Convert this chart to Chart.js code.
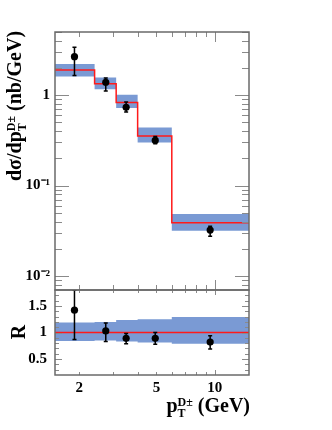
<!DOCTYPE html>
<html>
<head>
<meta charset="utf-8">
<script src="https://cdn.jsdelivr.net/npm/chart.js@4/dist/chart.umd.min.js"></script>
<style>
body { margin: 0; background: #fff; }
#wrap { position: relative; width: 332px; height: 430px; font-family: "Liberation Serif", serif; font-weight: bold; color: #000; }
canvas { position: absolute; left: 0; }
#top { top: 0; }
#bot { top: 262px; }
.lbl { position: absolute; white-space: nowrap; font-size: 20px; line-height: 1; }
.rot { transform: translate(-50%, -50%) rotate(-90deg); }
.ss { display: inline-block; vertical-align: -0.42em; font-size: 0.6em; line-height: 0.95; text-align: left; }
.ss span { display: block; }
</style>
</head>
<body>
<div id="wrap">
  <canvas id="top" width="332" height="320"></canvas>
  <canvas id="bot" width="332" height="168"></canvas>
  <div class="lbl rot" style="left:16px; top:106px;">dσ/dp<span class="ss"><span>D±</span><span>T</span></span> (nb/GeV)</div>
  <div class="lbl rot" style="left:18px; top:332px;">R</div>
  <div class="lbl" style="right:82px; top:395px;">p<span class="ss"><span>D±</span><span>T</span></span> (GeV)</div>
</div>
<script>
// Bin edges (GeV) and point positions
const edges = [1.5, 2.4, 3.1, 4, 6, 15];
const ptX = [1.89, 2.74, 3.49, 4.93, 9.46];

// Top panel: cross section (nb/GeV)
const theory = [1.90, 1.34, 0.83, 0.354, 0.0389];
const bandHi = [2.21, 1.57, 1.01, 0.44, 0.0485];
const bandLo = [1.61, 1.16, 0.72, 0.30, 0.0317];
const meas = [2.67, 1.39, 0.735, 0.316, 0.0322];
const measHi = [3.4, 1.55, 0.84, 0.35, 0.0356];
const measLo = [1.65, 1.11, 0.65, 0.29, 0.0276];

// Bottom panel: ratio
const ratioRef = [1, 1, 1, 1, 1];
const ratioBandHi = [1.19, 1.20, 1.235, 1.25, 1.29];
const ratioBandLo = [0.84, 0.85, 0.83, 0.81, 0.79];
const ratio = [1.42, 1.03, 0.89, 0.89, 0.82];
const ratioHi = [1.8, 1.18, 0.98, 1.0, 0.94];
const ratioLo = [0.87, 0.83, 0.79, 0.78, 0.69];

// Tick marks / labels
const xTickVals = [2, 3, 4, 5, 6, 7, 8, 9, 10];
const xLabelVals = [2, 5, 10];
const logYTicks = [0.008, 0.009, 0.01, 0.02, 0.03, 0.04, 0.05, 0.06, 0.07, 0.08, 0.09,
                   0.1, 0.2, 0.3, 0.4, 0.5, 0.6, 0.7, 0.8, 0.9, 1, 2, 3, 4, 5];
const logYMajor = [0.01, 0.1, 1];
const ratioTicks = [0.3, 0.4, 0.5, 0.6, 0.7, 0.8, 0.9, 1, 1.1, 1.2, 1.3, 1.4, 1.5, 1.6, 1.7];
const ratioMajor = [0.5, 1, 1.5];

const blue = 'rgb(122,154,212)';
const red = '#ff1a1a';
const font = { family: 'Liberation Serif', weight: 'bold', size: 15 };

function steps(vals) {
    return edges.map((x, i) => ({ x: x, y: vals[Math.min(i, vals.length - 1)] }));
}
function points(vals) {
    return ptX.map((x, i) => ({ x: x, y: vals[i] }));
}

// ROOT-like frame with inward ticks on all sides
const rootFrame = {
    id: 'rootFrame',
    afterDraw(chart, args, o) {
        const { ctx, chartArea: a, scales } = chart;
        const x = scales.x, y = scales.y;
        const seg = (x1, y1, x2, y2) => { ctx.beginPath(); ctx.moveTo(x1, y1); ctx.lineTo(x2, y2); ctx.stroke(); };
        ctx.save();
        ctx.strokeStyle = '#8a8a8a';
        ctx.lineWidth = 1;
        xTickVals.forEach(v => {
            const px = Math.round(x.getPixelForValue(v)) + 0.5;
            const len = v === 10 ? o.xLong : o.xShort;
            seg(px, a.top, px, a.top + len);
            seg(px, a.bottom, px, a.bottom - len);
        });
        o.yTicks.forEach(v => {
            const py = Math.round(y.getPixelForValue(v)) + 0.5;
            const len = o.yMajor.includes(v) ? o.yLong : o.yShort;
            seg(a.left, py, a.left + len, py);
            seg(a.right, py, a.right - len, py);
        });
        ctx.strokeStyle = '#6a6a6a';
        ctx.lineWidth = 1.5;
        ctx.strokeRect(a.left, a.top, a.right - a.left, a.bottom - a.top);
        ctx.restore();
    }
};

// vertical error bars for datasets carrying errHi/errLo
const errBars = {
    id: 'errBars',
    afterDatasetsDraw(chart) {
        const { ctx, chartArea: a, scales: { x, y } } = chart;
        ctx.save();
        ctx.beginPath();
        ctx.rect(a.left, a.top, a.right - a.left, a.bottom - a.top);
        ctx.clip();
        ctx.strokeStyle = '#000';
        ctx.lineWidth = 1.5;
        chart.data.datasets.forEach(ds => {
            if (!ds.errHi) return;
            ds.data.forEach((p, i) => {
                const px = x.getPixelForValue(p.x);
                const hi = y.getPixelForValue(ds.errHi[i]);
                const lo = y.getPixelForValue(ds.errLo[i]);
                ctx.beginPath();
                ctx.moveTo(px, hi); ctx.lineTo(px, lo);
                ctx.moveTo(px - 2, hi); ctx.lineTo(px + 2, hi);
                ctx.moveTo(px - 2, lo); ctx.lineTo(px + 2, lo);
                ctx.stroke();
            });
        });
        ctx.restore();
    }
};

function datasets(hi, lo, line, pts, ptsHi, ptsLo) {
    return [
        { data: points(pts), errHi: ptsHi, errLo: ptsLo, showLine: false, pointRadius: 3.6,
          pointBackgroundColor: '#000', pointBorderColor: '#000', pointBorderWidth: 0, order: 0 },
        { data: steps(line), stepped: 'before', borderColor: red, borderWidth: 1.5,
          pointRadius: 0, fill: false, order: 1 },
        { data: steps(hi), stepped: 'before', borderWidth: 0, pointRadius: 0, fill: false, order: 3 },
        { data: steps(lo), stepped: 'before', borderWidth: 0, pointRadius: 0,
          backgroundColor: blue, fill: '-1', order: 2 }
    ];
}

const noGrid = { display: false, drawTicks: false };

new Chart(document.getElementById('top'), {
    type: 'line',
    data: { datasets: datasets(bandHi, bandLo, theory, meas, measHi, measLo) },
    options: {
        responsive: false, animation: false,
        layout: { padding: { top: 32, right: 83, bottom: 30, left: 0 } },
        plugins: {
            legend: { display: false }, tooltip: { enabled: false },
            rootFrame: { yTicks: logYTicks, yMajor: logYMajor, xShort: 5, xLong: 10, yShort: 7, yLong: 14 }
        },
        scales: {
            x: { type: 'logarithmic', min: 1.5, max: 15, display: false },
            y: {
                type: 'logarithmic', min: 0.007, max: 5,
                grid: noGrid, border: { display: false },
                ticks: {
                    autoSkip: false, padding: 5, color: '#000', font: font,
                    callback: v => {
                        const e = Math.round(Math.log10(v));
                        if (Math.abs(Math.log10(v) - e) > 1e-6) return '';
                        if (e === 0) return '1';
                        if (e === -1) return '10\u207B\u00B9';
                        if (e === -2) return '10\u207B\u00B2';
                        return '';
                    }
                },
                afterFit: s => { s.width = 55; }
            }
        }
    },
    plugins: [rootFrame, errBars]
});

new Chart(document.getElementById('bot'), {
    type: 'line',
    data: { datasets: datasets(ratioBandHi, ratioBandLo, ratioRef, ratio, ratioHi, ratioLo) },
    options: {
        responsive: false, animation: false,
        layout: { padding: { top: 28, right: 83, bottom: 0, left: 0 } },
        plugins: {
            legend: { display: false }, tooltip: { enabled: false },
            rootFrame: { yTicks: ratioTicks, yMajor: ratioMajor, xShort: 3, xLong: 5, yShort: 4, yLong: 7 }
        },
        scales: {
            x: {
                type: 'logarithmic', min: 1.5, max: 15,
                grid: noGrid, border: { display: false },
                afterBuildTicks: s => { s.ticks = xTickVals.map(v => ({ value: v })); },
                ticks: {
                    autoSkip: false, maxRotation: 0, padding: 4, color: '#000', font: font,
                    callback: v => xLabelVals.includes(v) ? String(v) : ''
                },
                afterFit: s => { s.height = 55; }
            },
            y: {
                type: 'linear', min: 0.2, max: 1.8,
                grid: noGrid, border: { display: false },
                ticks: {
                    autoSkip: false, stepSize: 0.1, padding: 8, color: '#000', font: font,
                    callback: v => {
                        const k = Math.round(v * 10);
                        return k === 5 ? '0.5' : k === 10 ? '1' : k === 15 ? '1.5' : '';
                    }
                },
                afterFit: s => { s.width = 55; }
            }
        }
    },
    plugins: [rootFrame, errBars]
});
</script>
</body>
</html>
